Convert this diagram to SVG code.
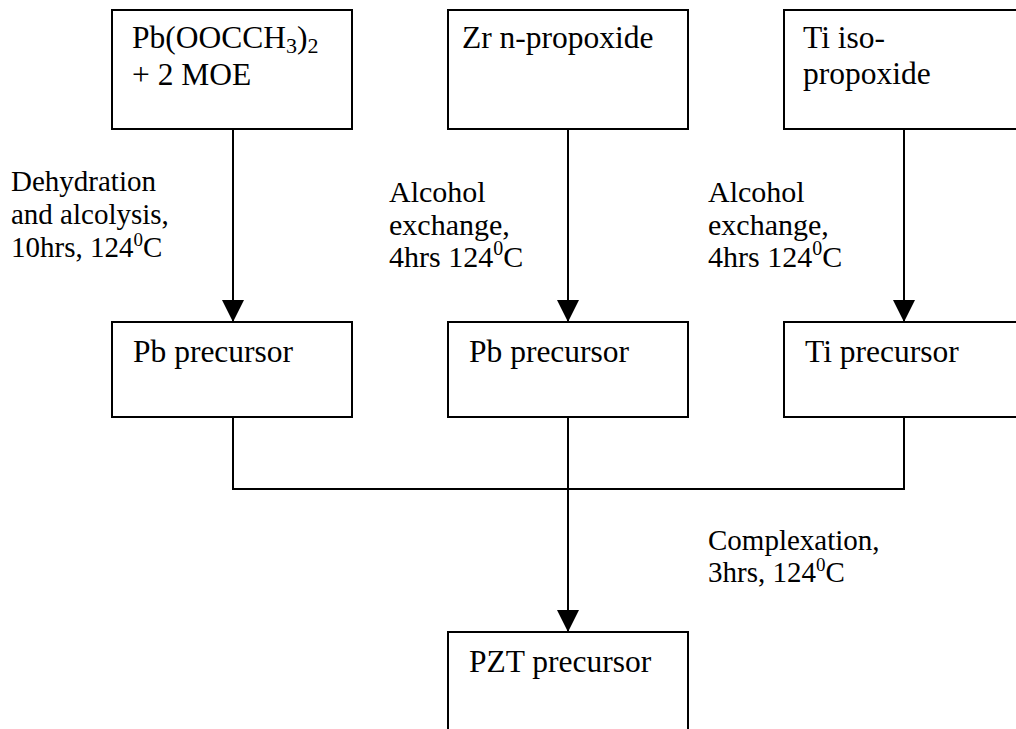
<svg xmlns="http://www.w3.org/2000/svg" width="1016" height="729" viewBox="0 0 1016 729">
<style>
.box{fill:#fff;stroke:#000;stroke-width:2}
.t{font-family:"Liberation Serif","Times New Roman",serif;fill:#000;font-size:31.5px}
.a{font-family:"Liberation Serif","Times New Roman",serif;fill:#000;font-size:30px}
.s{font-family:"Liberation Serif","Times New Roman",serif;fill:#000;font-size:29px}
.c{fill:none;stroke:#000;stroke-width:2}
</style>
<defs>
<marker id="arr" markerUnits="userSpaceOnUse" markerWidth="22" markerHeight="24" refX="22" refY="11" orient="auto">
<path d="M0,0 L22,11 L0,22 Z" fill="#000"/>
</marker>
</defs>
<rect width="1016" height="729" fill="#fff"/>
<g id="connectors">
<line class="c" x1="233" y1="129" x2="233" y2="322" marker-end="url(#arr)"/>
<line class="c" x1="568" y1="129" x2="568" y2="322" marker-end="url(#arr)"/>
<line class="c" x1="904" y1="129" x2="904" y2="322" marker-end="url(#arr)"/>
<polyline class="c" points="233,417 233,489 904,489 904,417"/>
<line class="c" x1="568" y1="417" x2="568" y2="632" marker-end="url(#arr)"/>
</g>
<g id="n1"><rect class="box" x="112" y="10" width="240" height="119"/>
<text class="t" x="132" y="48">Pb(OOCCH<tspan font-size="22" dy="5">3</tspan><tspan dy="-5">)</tspan><tspan font-size="22" dy="5">2</tspan></text>
<text class="t" x="132" y="85">+ 2 MOE</text></g>
<g id="n2"><rect class="box" x="448" y="10" width="240" height="119"/>
<text class="t" x="462" y="48">Zr n-propoxide</text></g>
<g id="n3"><rect class="box" x="784" y="10" width="240" height="119"/>
<text class="t" x="803" y="48">Ti iso-</text>
<text class="t" x="803" y="84">propoxide</text></g>
<g id="n4"><rect class="box" x="112" y="322" width="240" height="95"/>
<text class="t" x="133" y="362">Pb precursor</text></g>
<g id="n5"><rect class="box" x="448" y="322" width="240" height="95"/>
<text class="t" x="469" y="362">Pb precursor</text></g>
<g id="n6"><rect class="box" x="784" y="322" width="240" height="95"/>
<text class="t" x="805" y="362">Ti precursor</text></g>
<g id="n7"><rect class="box" x="448" y="632" width="240" height="130"/>
<text class="t" x="469" y="672">PZT precursor</text></g>
<g id="labels">
<text class="s" x="11" y="191">Dehydration</text>
<text class="s" x="11" y="224">and alcolysis,</text>
<text class="s" x="11" y="257">10hrs, 124<tspan font-size="19" dy="-11">0</tspan><tspan dy="11">C</tspan></text>
<text class="a" x="389" y="202">Alcohol</text>
<text class="a" x="389" y="235">exchange,</text>
<text class="a" x="389" y="267">4hrs 124<tspan font-size="20" dy="-12">0</tspan><tspan dy="12">C</tspan></text>
<text class="a" x="708" y="202">Alcohol</text>
<text class="a" x="708" y="235">exchange,</text>
<text class="a" x="708" y="267">4hrs 124<tspan font-size="20" dy="-12">0</tspan><tspan dy="12">C</tspan></text>
<text class="s" x="708" y="550">Complexation,</text>
<text class="s" x="708" y="582">3hrs, 124<tspan font-size="19" dy="-11">0</tspan><tspan dy="11">C</tspan></text>
</g>
</svg>
